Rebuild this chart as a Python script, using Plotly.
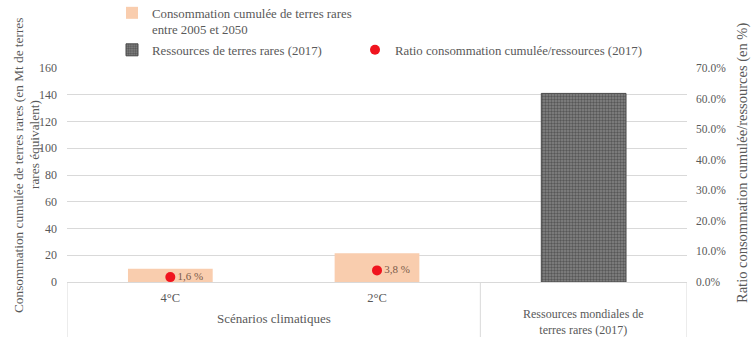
import plotly.graph_objects as go

# Values
scenarios = ["4°C", "2°C"]
consommation = [10, 21.5]          # cumulative consumption 2005-2050
ressources_label = "Ressources mondiales de<br>terres rares (2017)"
ressources = [141]                 # world resources (2017)
ratio = [0.016, 0.038]             # cumulative consumption / resources
ratio_text = ["1,6 %", "3,8 %"]

y_ticks = [0, 20, 40, 60, 80, 100, 120, 140, 160]
y2_ticks = [0, 0.1, 0.2, 0.3, 0.4, 0.5, 0.6, 0.7]

FONT = "Liberation Serif, Times New Roman, serif"
GREY = "#595959"
GRID = "#d9d9d9"

x_scen = list(range(len(scenarios)))
x_res = [len(scenarios)]

fig = go.Figure()

fig.add_trace(go.Bar(
    x=x_scen, y=consommation, width=0.41,
    name="Consommation cumulée de terres rares<br>entre 2005 et 2050",
    marker=dict(color="#F9CDAE", line=dict(width=0)),
    legend="legend", hoverinfo="y",
))

fig.add_trace(go.Bar(
    x=x_res, y=ressources, width=0.41,
    name="Ressources de terres rares (2017)",
    marker=dict(color="#6a6a6a",
                pattern=dict(shape=".", fgcolor="#2a2a2a", bgcolor="#858585",
                             size=3, solidity=0.5),
                line=dict(color="#4a4a4a", width=1)),
    legend="legend2", hoverinfo="y",
))

fig.add_trace(go.Scatter(
    x=x_scen, y=ratio, yaxis="y2", mode="markers+text",
    name="Ratio consommation cumulée/ressources (2017)",
    marker=dict(color="#F0141E", size=10),
    text=ratio_text, textposition="middle right",
    textfont=dict(family=FONT, size=11, color="#7a5a4a"),
    legend="legend3", cliponaxis=False,
))

# category dividers below the axis
for xv in [-0.5, len(scenarios) - 0.5, len(scenarios) + 0.5]:
    fig.add_shape(type="line", xref="x", yref="paper", x0=xv, x1=xv,
                  y0=0, y1=-0.35, line=dict(color=GRID, width=1))

W, H = 751, 337
L, R, T, B = 67, 64, 68, 55
pw, ph = W - L - R, H - T - B


def px_x(v):
    return (v - L) / pw


def px_y(v):
    return (H - B - v) / ph


annotations = [
    dict(text="Scénarios climatiques", x=(len(scenarios) - 1) / 2, y=px_y(318),
         xref="x", yref="paper", showarrow=False, yanchor="middle",
         font=dict(family=FONT, size=13, color=GREY)),
    dict(text=ressources_label, x=x_res[0], y=px_y(305), xref="x", yref="paper",
         showarrow=False, yanchor="top",
         font=dict(family=FONT, size=12, color=GREY)),
    dict(text="Consommation cumulée de terres rares (en Mt de terres",
         x=px_x(18), y=px_y(166), xref="paper", yref="paper", textangle=-90,
         xanchor="center", yanchor="middle", showarrow=False,
         font=dict(family=FONT, size=13.3, color=GREY)),
    dict(text="rares équivalent)",
         x=px_x(34), y=px_y(145), xref="paper", yref="paper", textangle=-90,
         xanchor="center", yanchor="middle", showarrow=False,
         font=dict(family=FONT, size=13.3, color=GREY)),
    dict(text="Ratio consommation cumulée/ressources (en %)",
         x=px_x(742), y=px_y(163), xref="paper", yref="paper", textangle=-90,
         xanchor="center", yanchor="middle", showarrow=False,
         font=dict(family=FONT, size=14.5, color=GREY)),
]

legend_common = dict(xanchor="left", yanchor="top", valign="top",
                     bgcolor="rgba(0,0,0,0)", itemwidth=30,
                     font=dict(family=FONT, size=12.8, color=GREY))

fig.update_layout(
    width=W, height=H,
    margin=dict(l=L, r=R, t=T, b=B, pad=0, autoexpand=False),
    paper_bgcolor="white", plot_bgcolor="white",
    barmode="overlay",
    font=dict(family=FONT, size=12, color=GREY),
    xaxis=dict(range=[-0.5, len(scenarios) + 0.5],
               tickvals=x_scen, ticktext=scenarios,
               showgrid=False, zeroline=False, showline=True,
               linecolor=GRID, linewidth=1, ticks="", ticklabelstandoff=4,
               tickfont=dict(family=FONT, size=12.5, color=GREY)),
    yaxis=dict(range=[0, 160], tickvals=y_ticks, showgrid=True,
               gridcolor=GRID, gridwidth=1, zeroline=False, showline=False,
               ticks="", ticklabelstandoff=9,
               tickfont=dict(family=FONT, size=12, color=GREY)),
    yaxis2=dict(range=[0, 0.7], tickvals=y2_ticks, tickformat=".1%",
                overlaying="y", side="right", showgrid=False, zeroline=False,
                showline=False, ticks="", ticklabelstandoff=8,
                tickfont=dict(family=FONT, size=11.5, color=GREY)),
    legend=dict(x=px_x(112), y=px_y(-2), **legend_common),
    legend2=dict(x=px_x(112), y=px_y(35), **legend_common),
    legend3=dict(x=px_x(355), y=px_y(35), **legend_common),
    annotations=annotations,
    showlegend=True,
)

fig.write_html("out.html")
